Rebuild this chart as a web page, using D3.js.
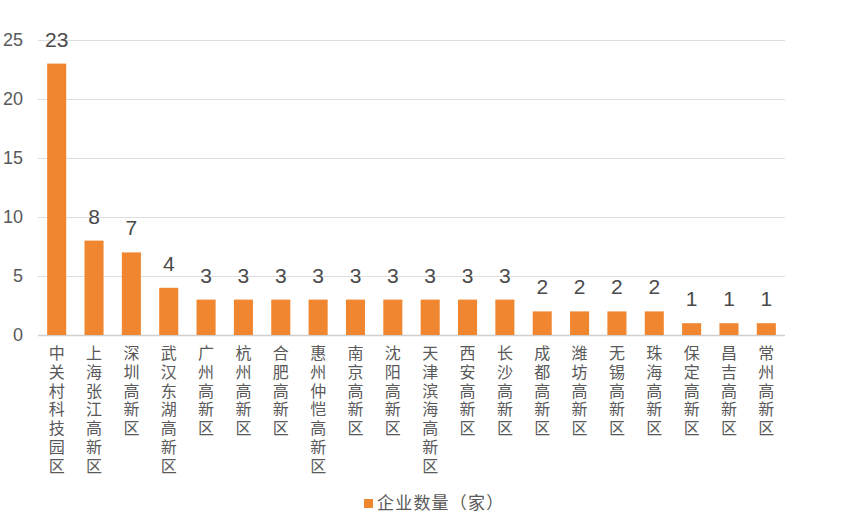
<!DOCTYPE html>
<html>
<head>
<meta charset="utf-8">
<script src="https://cdn.jsdelivr.net/npm/d3@7"></script>
<style>
  body { margin: 0; background: #fff; }
  svg { font-family: "Noto Sans CJK SC", "Liberation Sans", sans-serif; }
</style>
</head>
<body>
<svg id="svg" width="864" height="532"></svg>
<script>
let categories = ["中关村科技园区", "上海张江高新区", "深圳高新区", "武汉东湖高新区", "广州高新区",
	"杭州高新区", "合肥高新区", "惠州仲恺高新区", "南京高新区", "沈阳高新区", "天津滨海高新区",
	"西安高新区", "长沙高新区", "成都高新区", "潍坊高新区", "无锡高新区", "珠海高新区",
	"保定高新区", "昌吉高新区", "常州高新区"];
let counts = [23, 8, 7, 4, 3, 3, 3, 3, 3, 3, 3, 3, 3, 2, 2, 2, 2, 1, 1, 1];
let yTicks = [0, 5, 10, 15, 20, 25];
let seriesName = "企业数量（家）";

let svg = d3.select("#svg");
let padding = {top: 40, right: 79, bottom: 197, left: 38};
let barColor = "#F0862F";

let chartArea = {
	"width": 864 - padding.left - padding.right,
	"height": 532 - padding.top - padding.bottom
};

let yScale = d3.scaleLinear()
		.domain([0, 25])
		.range([chartArea.height, 0]);

let xScale = d3.scaleBand()
		.domain(categories)
		.range([0, chartArea.width])
		.paddingInner(0.49)
		.paddingOuter(0.245);

let g = svg.append("g")
		.attr("transform", "translate(" + padding.left + "," + padding.top + ")");

// gridlines
g.append("g")
		.selectAll("line").data(yTicks).enter()
		.append("line")
		.attr("x1", 0)
		.attr("x2", chartArea.width)
		.attr("y1", d => yScale(d) + 0.5)
		.attr("y2", d => yScale(d) + 0.5)
		.attr("stroke", d => d === 0 ? "#cfcfcf" : "#dedede")
		.attr("stroke-width", d => d === 0 ? 1.5 : 1);

// y axis labels
let yAxis = g.append("g")
		.call(d3.axisLeft(yScale).tickValues(yTicks).tickSize(0).tickPadding(15));
yAxis.select(".domain").remove();
yAxis.selectAll("text")
		.attr("fill", "#595959")
		.style("font-size", "18px")
		.style("font-family", "'Liberation Sans', sans-serif");

// bars
g.selectAll("rect.bar").data(counts).enter()
		.append("rect")
		.attr("class", "bar")
		.attr("x", (d, i) => xScale(categories[i]))
		.attr("y", d => yScale(d))
		.attr("width", xScale.bandwidth())
		.attr("height", d => chartArea.height - yScale(d))
		.attr("fill", barColor);

// value labels
g.selectAll("text.value").data(counts).enter()
		.append("text")
		.attr("class", "value")
		.attr("x", (d, i) => xScale(categories[i]) + xScale.bandwidth() / 2)
		.attr("y", d => yScale(d) - 17)
		.attr("text-anchor", "middle")
		.attr("fill", "#4a4a4a")
		.style("font-size", "21px")
		.style("font-family", "'Liberation Sans', sans-serif")
		.text(d => d);

// category labels, written top to bottom
g.selectAll("text.cat").data(categories).enter()
		.append("text")
		.attr("class", "cat")
		.attr("x", d => xScale(d) + xScale.bandwidth() / 2)
		.attr("y", chartArea.height + 10)
		.attr("fill", "#595959")
		.style("writing-mode", "vertical-rl")
		.style("text-orientation", "upright")
		.style("letter-spacing", "2.8px")
		.style("font-size", "16px")
		.text(d => d);

// legend
let legend = svg.append("g")
		.attr("transform", "translate(364,499)");
legend.append("rect")
		.attr("width", 9)
		.attr("height", 9)
		.attr("fill", barColor);
legend.append("text")
		.attr("x", 13)
		.attr("y", 10)
		.attr("fill", "#595959")
		.style("font-size", "17px")
		.style("letter-spacing", "1.2px")
		.text(seriesName);
</script>
</body>
</html>
